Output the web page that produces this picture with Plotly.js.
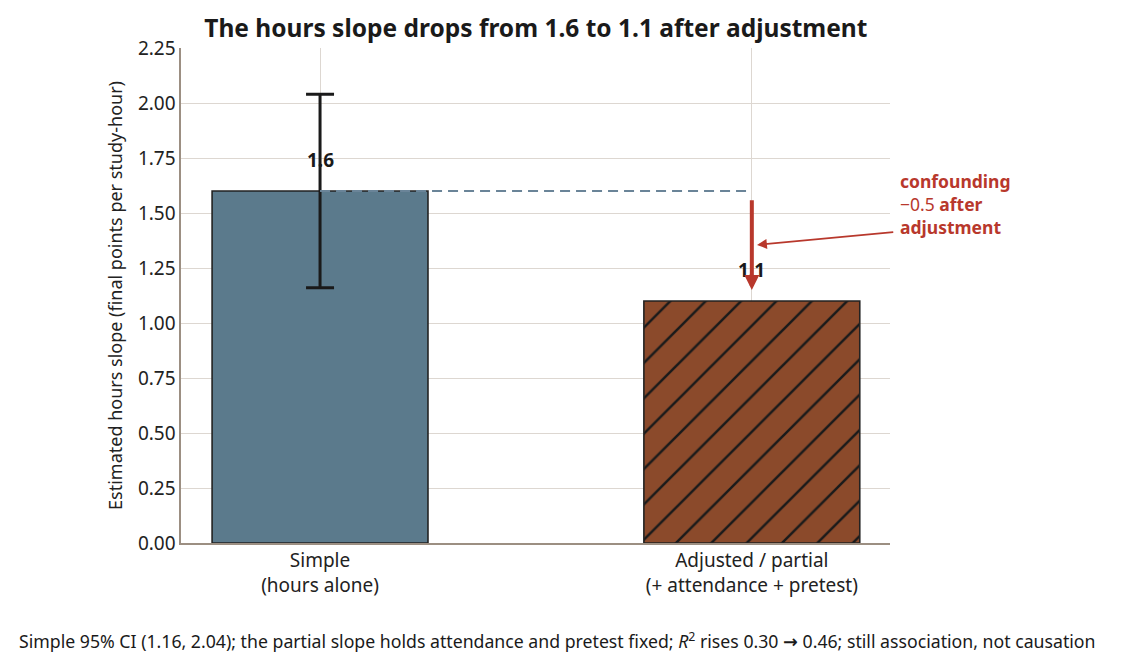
<!DOCTYPE html>
<html>
<head>
<meta charset="utf-8">
<script src="https://cdn.plot.ly/plotly-3.0.1.min.js"></script>
<style>
html, body { margin: 0; padding: 0; background: #fff; }
#chart { width: 1121px; height: 671px; }
</style>
</head>
<body>
<div id="chart"></div>
<script>
// data
var categories = ['Simple<br>(hours alone)', 'Adjusted / partial<br>(+ attendance + pretest)']
var slopes = [1.6, 1.1]
var valueLabels = ['1.6', '1.1']
var ciSimple = [1.16, 2.04]
var yTicks = [0, 0.25, 0.5, 0.75, 1, 1.25, 1.5, 1.75, 2, 2.25]
var yTickText = ['0.00', '0.25', '0.50', '0.75', '1.00', '1.25', '1.50', '1.75', '2.00', '2.25']

var xpos = [0, 1]
var font = 'Noto Sans, DejaVu Sans, sans-serif'
var red = '#b8382c'
var barColors = ['#5b7a8c', '#8b4a2b']

var simpleBar = {
	type: 'bar',
	x: [xpos[0]],
	y: [slopes[0]],
	width: 0.5,
	marker: {color: barColors[0], line: {color: '#222', width: 1.6}},
	hoverinfo: 'skip',
	showlegend: false
}

var adjustedBar = {
	type: 'bar',
	x: [xpos[1]],
	y: [slopes[1]],
	width: 0.5,
	marker: {
		color: barColors[1],
		line: {color: '#222', width: 1.6},
		pattern: {shape: '/', fillmode: 'overlay', fgcolor: '#1a1a1a', fgopacity: 1, size: 25, solidity: 0.1}
	},
	hoverinfo: 'skip',
	showlegend: false
}

// CI whisker on the simple slope
var ci = {
	type: 'scatter',
	mode: 'markers',
	x: [xpos[0]],
	y: [slopes[0]],
	marker: {size: 1, color: 'rgba(0,0,0,0)'},
	error_y: {
		type: 'data',
		symmetric: false,
		array: [ciSimple[1] - slopes[0]],
		arrayminus: [slopes[0] - ciSimple[0]],
		thickness: 3,
		width: 14,
		color: '#1a1a1a'
	},
	hoverinfo: 'skip',
	showlegend: false
}

var annots = []
for (var i = 0; i < xpos.length; i++) {
	annots.push({
		x: xpos[i], y: slopes[i], xref: 'x', yref: 'y',
		text: '<b>' + valueLabels[i] + '</b>',
		showarrow: false, yanchor: 'bottom', yshift: 16,
		font: {family: font, size: 19, color: '#1a1a1a'}
	})
}

// big drop arrow
annots.push({
	x: xpos[1], y: slopes[1] + 0.05, xref: 'x', yref: 'y',
	ax: xpos[1], ay: slopes[0] - 0.035, axref: 'x', ayref: 'y',
	text: '', showarrow: true,
	arrowhead: 2, arrowsize: 0.75, arrowwidth: 4, arrowcolor: red
})
// pointer from the note
annots.push({
	x: xpos[1] + 0.012, y: 1.355, xref: 'x', yref: 'y',
	ax: 1.331, ay: 1.414, axref: 'x', ayref: 'y',
	text: '', showarrow: true,
	arrowhead: 2, arrowsize: 1.1, arrowwidth: 1.8, arrowcolor: red
})
annots.push({
	x: 1.011, y: 0.685, xref: 'paper', yref: 'paper',
	xanchor: 'left', yanchor: 'middle', align: 'left',
	text: '<b>confounding</b><br>\u22120.5 <b>after</b><br><b>adjustment</b>',
	showarrow: false,
	font: {family: font, size: 17.5, color: red}
})
// footnote
annots.push({
	x: -0.231, y: -0.196, xref: 'paper', yref: 'paper',
	xanchor: 'left', yanchor: 'middle',
	text: 'Simple 95% CI (1.16, 2.04); the partial slope holds attendance and pretest fixed; <i>R</i><sup>2</sup> rises 0.30 <b>\u2192</b> 0.46; still association, not causation',
	showarrow: false,
	font: {family: font, size: 17.7, color: '#1a1a1a'}
})

var layout = {
	width: 1121,
	height: 671,
	margin: {l: 181, r: 231, t: 48, b: 128},
	paper_bgcolor: '#fff',
	plot_bgcolor: '#fff',
	font: {family: font, color: '#222'},
	barmode: 'overlay',
	title: {
		text: '<b>The hours slope drops from 1.6 to 1.1 after adjustment</b>',
		x: 0.478, xanchor: 'center', xref: 'container',
		y: 0.958, yanchor: 'middle', yref: 'container',
		font: {family: font, size: 24.5, color: '#1a1a1a'}
	},
	xaxis: {
		range: [-0.322, 1.32],
		tickvals: xpos,
		ticktext: categories,
		showgrid: true, gridcolor: '#ddd7d1', gridwidth: 1,
		zeroline: false,
		showline: true, linecolor: '#9c8f82', linewidth: 1.6,
		ticks: '',
		tickfont: {family: font, size: 19, color: '#222'}
	},
	yaxis: {
		range: [0, 2.25],
		tickvals: yTicks,
		ticktext: yTickText,
		showgrid: true, gridcolor: '#ddd7d1', gridwidth: 1,
		zeroline: false,
		showline: true, linecolor: '#9c8f82', linewidth: 1.6,
		ticks: '',
		tickfont: {family: font, size: 19, color: '#222'},
		title: {text: 'Estimated hours slope (final points per study-hour)', standoff: 10,
			font: {family: font, size: 18, color: '#222'}}
	},
	shapes: [{
		type: 'line', xref: 'x', yref: 'y',
		x0: xpos[0], x1: xpos[1], y0: slopes[0], y1: slopes[0],
		line: {color: '#6a8498', width: 2, dash: '10px,6px'}
	}],
	annotations: annots,
	showlegend: false
}

Plotly.newPlot('chart', [simpleBar, adjustedBar, ci], layout, {displayModeBar: false, staticPlot: true})
</script>
</body>
</html>
